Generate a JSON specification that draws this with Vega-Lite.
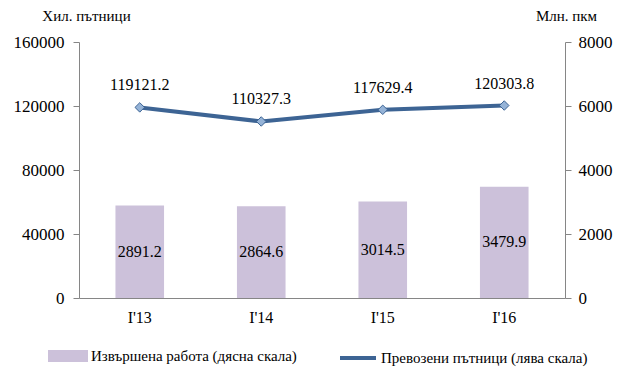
{
  "$schema": "https://vega.github.io/schema/vega-lite/v6.json",
  "width": 486,
  "height": 256,
  "autosize": {"type": "none"},
  "padding": {"left": 79, "top": 42, "right": 65, "bottom": 73},
  "background": "white",
  "config": {
    "font": "Times New Roman, Liberation Serif, serif",
    "text": {"font": "Times New Roman, Liberation Serif, serif"},
    "view": {"stroke": null},
    "axis": {"grid": false, "domainColor": "#868686", "tickColor": "#868686", "labelColor": "#000000", "titleColor": "#000000", "labelFont": "Times New Roman, Liberation Serif, serif", "titleFont": "Times New Roman, Liberation Serif, serif", "titleFontWeight": "normal"},
    "legend": {"labelFont": "Times New Roman, Liberation Serif, serif"}
  },
  "data": {
    "values": [
      {"period": "I'13", "work": 2891.2, "passengers": 119121.2},
      {"period": "I'14", "work": 2864.6, "passengers": 110327.3},
      {"period": "I'15", "work": 3014.5, "passengers": 117629.4},
      {"period": "I'16", "work": 3479.9, "passengers": 120303.8}
    ]
  },
  "encoding": {
    "x": {
      "field": "period", "type": "nominal", "sort": null,
      "scale": {"paddingInner": 0.6, "paddingOuter": 0.3},
      "axis": {"title": null, "labelAngle": 0, "labelFontSize": 16, "ticks": false, "labelPadding": 11, "domainColor": "#868686"}
    }
  },
  "layer": [
    {
      "layer": [
        {
          "mark": {"type": "bar"},
          "encoding": {
            "y": {
              "field": "work", "type": "quantitative",
              "scale": {"domain": [0, 8000], "nice": false},
              "axis": {"orient": "right", "values": [0, 2000, 4000, 6000, 8000], "labelFontSize": 17, "tickSize": 6, "labelPadding": 7, "title": "Млн. пкм", "titleAngle": 0, "titleFontSize": 15, "titleX": 1, "titleY": -27, "titleAlign": "center", "titleBaseline": "middle", "format": "d"}
            },
            "color": {
              "datum": "Извършена работа (дясна скала)",
              "scale": {"domain": ["Извършена работа (дясна скала)", "Превозени пътници (лява скала)"], "range": ["#CCC1DA", "#3D6494"]},
              "legend": {
                "title": null,
                "orient": "none",
                "legendX": -31,
                "legendY": 294,
                "direction": "horizontal",
                "columnPadding": 35,
                "labelFontSize": 15,
                "labelColor": "#000000",
                "labelLimit": 400,
                "labelOffset": 3,
                "symbolSize": 1296,
                "encode": {
                  "symbols": {
                    "update": {
                      "shape": {"signal": "datum.value === 'Извършена работа (дясна скала)' ? 'M-1,-0.22H1V0.22H-1Z' : 'M-1,0H1'"},
                      "fill": {"signal": "datum.value === 'Извършена работа (дясна скала)' ? '#CCC1DA' : 'transparent'"},
                      "stroke": {"signal": "datum.value === 'Извършена работа (дясна скала)' ? 'transparent' : '#3D6494'"},
                      "strokeWidth": {"value": 4},
                      "opacity": {"value": 1},
                      "fillOpacity": {"value": 1}
                    }
                  }
                }
              }
            }
          }
        },
        {
          "transform": [{"calculate": "datum.work / 2", "as": "mid"}],
          "mark": {"type": "text", "fontSize": 16, "color": "#000000", "baseline": "middle"},
          "encoding": {
            "y": {"field": "mid", "type": "quantitative", "scale": {"domain": [0, 8000], "nice": false},
              "axis": {"orient": "right", "values": [0, 2000, 4000, 6000, 8000], "labelFontSize": 17, "tickSize": 6, "labelPadding": 7, "title": "Млн. пкм", "titleAngle": 0, "titleFontSize": 15, "titleX": 1, "titleY": -27, "titleAlign": "center", "titleBaseline": "middle", "format": "d"}},
            "text": {"field": "work", "type": "quantitative", "format": ".1f"}
          }
        }
      ]
    },
    {
      "layer": [
        {
          "mark": {"type": "line", "strokeWidth": 4},
          "encoding": {
            "y": {
              "field": "passengers", "type": "quantitative",
              "scale": {"domain": [0, 160000], "nice": false},
              "axis": {"orient": "left", "values": [0, 40000, 80000, 120000, 160000], "labelFontSize": 17, "tickSize": 6, "labelPadding": 9, "title": "Хил. пътници", "titleAngle": 0, "titleFontSize": 15, "titleX": 7, "titleY": -27, "titleAlign": "center", "titleBaseline": "middle", "format": "d"}
            },
            "color": {"datum": "Превозени пътници (лява скала)"}
          }
        },
        {
          "mark": {"type": "point", "shape": "diamond", "filled": true, "size": 90, "fill": "#95B3D7", "stroke": "#3D6494", "strokeWidth": 1, "opacity": 1},
          "encoding": {
            "y": {"field": "passengers", "type": "quantitative", "scale": {"domain": [0, 160000], "nice": false},
              "axis": {"orient": "left", "values": [0, 40000, 80000, 120000, 160000], "labelFontSize": 17, "tickSize": 6, "labelPadding": 9, "title": "Хил. пътници", "titleAngle": 0, "titleFontSize": 15, "titleX": 7, "titleY": -27, "titleAlign": "center", "titleBaseline": "middle", "format": "d"}}
          }
        },
        {
          "mark": {"type": "text", "fontSize": 16, "color": "#000000", "baseline": "middle", "dy": -22},
          "encoding": {
            "y": {"field": "passengers", "type": "quantitative", "scale": {"domain": [0, 160000], "nice": false},
              "axis": {"orient": "left", "values": [0, 40000, 80000, 120000, 160000], "labelFontSize": 17, "tickSize": 6, "labelPadding": 9, "title": "Хил. пътници", "titleAngle": 0, "titleFontSize": 15, "titleX": 7, "titleY": -27, "titleAlign": "center", "titleBaseline": "middle", "format": "d"}},
            "text": {"field": "passengers", "type": "quantitative", "format": ".1f"}
          }
        }
      ]
    }
  ],
  "resolve": {"scale": {"y": "independent"}}
}
